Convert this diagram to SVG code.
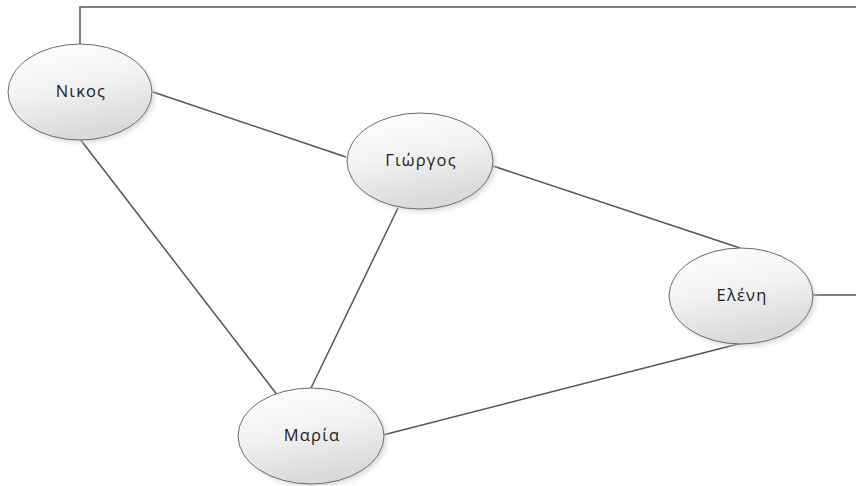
<svg xmlns="http://www.w3.org/2000/svg" width="856" height="486" viewBox="0 0 856 486">
<defs>
<linearGradient id="g" x1="0" y1="0" x2="0.3" y2="1">
<stop offset="0" stop-color="#ffffff"/>
<stop offset="0.5" stop-color="#f3f3f3"/>
<stop offset="1" stop-color="#dadada"/>
</linearGradient>
<filter id="sh" x="-20%" y="-20%" width="150%" height="150%">
<feGaussianBlur stdDeviation="2"/>
</filter>
</defs>
<style>
.e{fill:url(#g);stroke:#6b6b6b;stroke-width:1}
.s{fill:#c8c8c8;opacity:0.6;filter:url(#sh)}
.t{font-family:"Open Sans","Noto Sans",sans-serif;font-size:16.5px;letter-spacing:1.2px;fill:#222;text-anchor:middle}
.c{fill:none;stroke:#555;stroke-width:1.5}
</style>
<rect width="856" height="486" fill="#fff"/>
<g id="connectors">
<polyline class="c" points="80,44 80,7 856,7"/>
<line class="c" x1="153" y1="92" x2="346" y2="157"/>
<line class="c" x1="80" y1="139" x2="278" y2="396"/>
<line class="c" x1="398" y1="208" x2="311" y2="388"/>
<line class="c" x1="493" y1="166" x2="740" y2="248"/>
<line class="c" x1="383" y1="435" x2="742" y2="343"/>
<line class="c" x1="813" y1="295" x2="856" y2="295"/>
</g>
<g id="nikos">
<ellipse class="s" cx="83" cy="95" rx="72" ry="48"/>
<ellipse class="e" cx="80" cy="92" rx="72" ry="48"/>
<text class="t" x="81" y="97">Νικος</text>
</g>
<g id="giorgos">
<ellipse class="s" cx="423" cy="164" rx="73" ry="48"/>
<ellipse class="e" cx="420" cy="161" rx="73" ry="48"/>
<text class="t" x="421" y="166">Γιώργος</text>
</g>
<g id="eleni">
<ellipse class="s" cx="744" cy="299" rx="72" ry="48"/>
<ellipse class="e" cx="741" cy="296" rx="72" ry="48"/>
<text class="t" x="742" y="301">Ελένη</text>
</g>
<g id="maria">
<ellipse class="s" cx="314" cy="439" rx="73" ry="48"/>
<ellipse class="e" cx="311" cy="436" rx="73" ry="48"/>
<text class="t" x="312" y="441">Μαρία</text>
</g>
</svg>
